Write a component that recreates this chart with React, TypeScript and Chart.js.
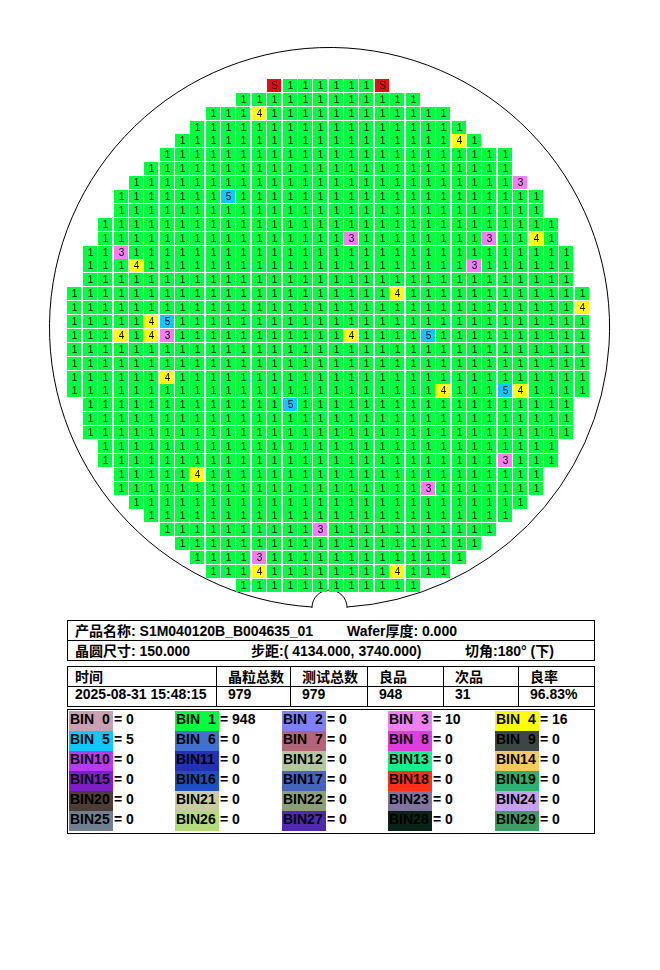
import React, { useEffect, useRef } from "react";
import { Chart, registerables } from "chart.js";

Chart.register(...registerables);

// ---------- wafer map data ----------
// first and last die column of each row, top row (1) to bottom row (37)
const ROW_START = [0, -2, -4, -5, -6, -7, -8, -9, -10, -10, -11, -11, -12, -12, -12, -13, -13, -13, -13, -13, -13, -13, -13, -12, -12, -12, -11, -11, -10, -10, -9, -8, -7, -6, -5, -4, -2];
const ROW_END = [7, 9, 11, 12, 13, 15, 15, 16, 17, 17, 18, 18, 19, 19, 19, 20, 20, 20, 20, 20, 20, 20, 20, 19, 19, 19, 18, 18, 17, 17, 16, 15, 14, 13, 12, 11, 9];

// dies that are not bin 1: [row, column]
const REF_DIES: [number, number][] = [[1, 0], [1, 7]]; // marked "S"
const BIN3_DIES: [number, number][] = [[8, 16], [12, 5], [12, 14], [13, -10], [14, 13], [19, -7], [28, 15], [30, 10], [33, 3], [35, -1]];
const BIN4_DIES: [number, number][] = [[3, -1], [5, 12], [12, 17], [14, -9], [16, 8], [17, 20], [18, -8], [19, -10], [19, -8], [19, 5], [22, -7], [23, 11], [23, 16], [29, -5], [36, -1], [36, 8]];
const BIN5_DIES: [number, number][] = [[9, -3], [18, -7], [19, 10], [23, 15], [24, 1]];

// wafer outline (in die-grid units)
const WAFER_CX = 3.6;
const WAFER_CY = 18.43;
const WAFER_R = 18.22;
const NOTCH_R = 1.14;

// ---------- summary data ----------
const INFO_ROW1 = ["产品名称: S1M040120B_B004635_01", "Wafer厚度: 0.000"];
const INFO_ROW2 = ["晶圆尺寸: 150.000", "步距:( 4134.000, 3740.000)", "切角:180° (下)"];
const STAT_HEADERS = ["时间", "晶粒总数", "测试总数", "良品", "次品", "良率"];
const STAT_VALUES = ["2025-08-31 15:48:15", "979", "979", "948", "31", "96.83%"];

// ---------- bin legend ----------
const BIN_LABELS = ["BIN  0", "BIN  1", "BIN  2", "BIN  3", "BIN  4", "BIN  5", "BIN  6", "BIN  7", "BIN  8", "BIN  9",
  "BIN10", "BIN11", "BIN12", "BIN13", "BIN14", "BIN15", "BIN16", "BIN17", "BIN18", "BIN19",
  "BIN20", "BIN21", "BIN22", "BIN23", "BIN24", "BIN25", "BIN26", "BIN27", "BIN28", "BIN29"];
const BIN_COLORS = ["#c8a0b0", "#00ff40", "#8080ff", "#f080f0", "#ffff00", "#10c8ff", "#4070d0", "#b4647a", "#e03ce0", "#3c4646",
  "#b43cf0", "#2331b4", "#b4c8a0", "#14f08c", "#fac864", "#7d1ec8", "#1e50c0", "#4664be", "#ff3214", "#28b46e",
  "#503c37", "#c8cca0", "#8ca078", "#8272a0", "#c8a0f0", "#708090", "#b4dc78", "#5028b4", "#0a2318", "#3ca064"];
const BIN_COUNTS = [0, 948, 0, 10, 16, 5, 0, 0, 0, 0, 0, 0, 0, 0, 0, 0, 0, 0, 0, 0, 0, 0, 0, 0, 0, 0, 0, 0, 0, 0];
const REF_COLOR = "#e01010";

const CELL_W = 14;
const CELL_H = 13;
const FONT = "bold 14px 'Liberation Sans', 'Noto Sans CJK SC', sans-serif";

function makeCell(fill: string, label: string, textColor: string) {
  const c = document.createElement("canvas");
  c.width = CELL_W;
  c.height = CELL_H;
  const g = c.getContext("2d")!;
  g.fillStyle = fill;
  g.fillRect(0, 0, CELL_W, CELL_H);
  g.fillStyle = textColor;
  g.font = "10px 'Liberation Sans', sans-serif";
  g.textAlign = "center";
  g.textBaseline = "middle";
  g.fillText(label, CELL_W / 2 + 0.5, CELL_H / 2 + 1);
  return c;
}

const waferPlugin = {
  id: "waferOutline",
  beforeDatasetsDraw(chart: any) {
    const { ctx, scales } = chart;
    const xs = scales.x;
    const ys = scales.y;
    const cx = xs.getPixelForValue(WAFER_CX);
    const cy = ys.getPixelForValue(WAFER_CY);
    const R = xs.getPixelForValue(WAFER_CX + WAFER_R) - cx;
    const nr = xs.getPixelForValue(WAFER_CX + NOTCH_R) - cx;
    const d = Math.asin(nr / R);
    ctx.save();
    ctx.strokeStyle = "#000";
    ctx.lineWidth = 1;
    ctx.beginPath();
    ctx.arc(cx, cy, R, Math.PI / 2 + d, Math.PI / 2 - d + 2 * Math.PI, false);
    ctx.arc(cx, cy + R, nr, 0, Math.PI, true);
    ctx.closePath();
    ctx.stroke();
    ctx.restore();
    ctx.imageSmoothingEnabled = false;
  },
};

const COL_X = [67, 216, 290, 367, 443, 518, 594];

export default function App() {
  const ref = useRef<HTMLCanvasElement>(null);

  useEffect(() => {
    const canvas = ref.current!;
    const key = (r: number, c: number) => r + ":" + c;
    const special = new Set<string>();
    [REF_DIES, BIN3_DIES, BIN4_DIES, BIN5_DIES].forEach((list) => list.forEach(([r, c]) => special.add(key(r, c))));
    const bin1: { x: number; y: number }[] = [];
    ROW_START.forEach((s, i) => {
      const row = i + 1;
      for (let c = s; c <= ROW_END[i]; c++) {
        if (!special.has(key(row, c))) bin1.push({ x: c, y: row });
      }
    });
    const toPts = (list: [number, number][]) => list.map(([r, c]) => ({ x: c, y: r }));
    const mk = (label: string, data: any[], img: HTMLCanvasElement) => ({
      label,
      data,
      pointStyle: img,
      pointRadius: 7,
      pointHoverRadius: 7,
      showLine: false,
    });
    const datasets = [
      mk("BIN 1", bin1, makeCell(BIN_COLORS[1], "1", "#000")),
      mk("S", toPts(REF_DIES), makeCell(REF_COLOR, "S", "#300")),
      mk("BIN 3", toPts(BIN3_DIES), makeCell(BIN_COLORS[3], "3", "#000")),
      mk("BIN 4", toPts(BIN4_DIES), makeCell(BIN_COLORS[4], "4", "#000")),
      mk("BIN 5", toPts(BIN5_DIES), makeCell(BIN_COLORS[5], "5", "#000")),
    ];
    const chart = new Chart(canvas, {
      type: "scatter",
      data: { datasets } as any,
      options: {
        animation: false,
        responsive: false,
        events: [],
        layout: { autoPadding: false, padding: 0 } as any,
        plugins: {
          legend: { display: false },
          tooltip: { enabled: false },
          title: { display: false },
        },
        scales: {
          x: { type: "linear", display: false, min: -17.84, max: 25.1 },
          y: { type: "linear", display: false, min: -5.152, max: 39.13, reverse: true },
        },
      },
      plugins: [waferPlugin],
    });
    return () => chart.destroy();
  }, []);

  const txt = (left: number, top: number, s: string, key: string) => (
    <div key={key} style={{ position: "absolute", left, top, height: 20, lineHeight: "20px", whiteSpace: "pre", font: FONT, color: "#000" }}>{s}</div>
  );
  const hline = (left: number, top: number, width: number, key: string) => (
    <div key={key} style={{ position: "absolute", left, top, width, height: 1, background: "#000" }} />
  );
  const vline = (left: number, top: number, height: number, key: string) => (
    <div key={key} style={{ position: "absolute", left, top, width: 1, height, background: "#000" }} />
  );
  const box = (l: number, t: number, r: number, b: number, k: string) => [
    hline(l, t, r - l + 1, k + "t"),
    hline(l, b, r - l + 1, k + "b"),
    vline(l, t, b - t + 1, k + "l"),
    vline(r, t, b - t + 1, k + "r"),
  ];

  const legend: React.ReactNode[] = [];
  BIN_LABELS.forEach((lab, i) => {
    const col = i % 5;
    const row = Math.floor(i / 5);
    const left = 69 + Math.round(col * 106.4);
    const top = 711 + row * 20;
    legend.push(
      <div key={"sw" + i} style={{ position: "absolute", left, top, width: 44, height: 20, background: BIN_COLORS[i] }} />
    );
    legend.push(txt(left + 1, top, lab, "lt" + i));
    legend.push(txt(left + 45, top, "= " + BIN_COUNTS[i], "lv" + i));
  });

  return (
    <div style={{ position: "absolute", left: 0, top: 0, width: 660, height: 970, background: "#fff", overflow: "hidden" }}>
      <canvas ref={ref} width={660} height={615} style={{ position: "absolute", left: 0, top: 0, width: 660, height: 615, display: "block" }} />
      {box(67, 620, 594, 660, "b1")}
      {hline(67, 640, 528, "b1m")}
      {txt(75, 620, INFO_ROW1[0], "i10")}
      {txt(347, 620, INFO_ROW1[1], "i11")}
      {txt(75, 640, INFO_ROW2[0], "i20")}
      {txt(251, 640, INFO_ROW2[1], "i21")}
      {txt(465, 640, INFO_ROW2[2], "i22")}
      {box(67, 666, 594, 706, "b2")}
      {hline(67, 686, 528, "b2m")}
      {COL_X.slice(1, 6).map((x, i) => vline(x, 666, 41, "cv" + i))}
      {STAT_HEADERS.map((h, i) => txt(i === 0 ? 75 : COL_X[i] + 12, 666, h, "sh" + i))}
      {STAT_VALUES.map((v, i) => txt(i === 0 ? 75 : COL_X[i] + 12, 686, v, "sv" + i))}
      {box(67, 709, 594, 833, "b3")}
      {legend}
    </div>
  );
}
